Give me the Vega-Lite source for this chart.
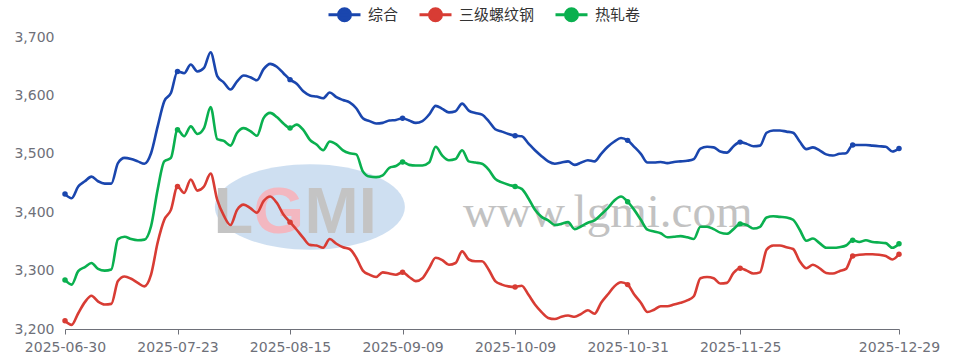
{
"$schema": "https://vega.github.io/schema/vega-lite/v6.json",
"width": 834, "height": 292,
"autosize": {"type": "none"},
"padding": {"left": 65, "top": 37, "right": 56, "bottom": 33},
"background": "#ffffff",
"config": {
  "view": {"stroke": null},
  "font": "DejaVu Sans",
  "axisX": {"domainColor": "#6E7079", "tickColor": "#6E7079", "tickSize": 5, "labelColor": "#6E7079", "labelFontSize": 14, "labelPadding": 6, "grid": false, "labelAngle": 0, "labelOverlap": false, "labelFont": "DejaVu Sans"},
  "axisY": {"domain": false, "ticks": false, "gridColor": "#E0E6F1", "gridWidth": 1, "labelColor": "#6E7079", "labelFontSize": 14, "labelPadding": 11, "labelFont": "DejaVu Sans", "format": ",.0f"}
},
"data": {"values": [
{"d":"2025-06-30","综合":3431,"三级螺纹钢":3214,"热轧卷":3284},
{"d":"2025-07-01","综合":3424,"三级螺纹钢":3207,"热轧卷":3276},
{"d":"2025-07-02","综合":3444,"三级螺纹钢":3227,"热轧卷":3299},
{"d":"2025-07-03","综合":3453,"三级螺纹钢":3246,"热轧卷":3306},
{"d":"2025-07-04","综合":3461,"三级螺纹钢":3257,"热轧卷":3313},
{"d":"2025-07-07","综合":3453,"三级螺纹钢":3247,"热轧卷":3303},
{"d":"2025-07-08","综合":3449,"三级螺纹钢":3242,"热轧卷":3300},
{"d":"2025-07-09","综合":3449,"三级螺纹钢":3243,"热轧卷":3302},
{"d":"2025-07-10","综合":3484,"三级螺纹钢":3282,"热轧卷":3354},
{"d":"2025-07-11","综合":3493,"三级螺纹钢":3290,"热轧卷":3358},
{"d":"2025-07-14","综合":3491,"三级螺纹钢":3286,"热轧卷":3354},
{"d":"2025-07-15","综合":3487,"三级螺纹钢":3279,"热轧卷":3352},
{"d":"2025-07-16","综合":3483,"三级螺纹钢":3273,"热轧卷":3353},
{"d":"2025-07-17","综合":3501,"三级螺纹钢":3293,"热轧卷":3376},
{"d":"2025-07-18","综合":3547,"三级螺纹钢":3348,"热轧卷":3439},
{"d":"2025-07-21","综合":3590,"三级螺纹钢":3387,"热轧卷":3487},
{"d":"2025-07-22","综合":3604,"三级螺纹钢":3404,"热轧卷":3493},
{"d":"2025-07-23","综合":3641,"三级螺纹钢":3444,"热轧卷":3541},
{"d":"2025-07-24","综合":3638,"三级螺纹钢":3433,"热轧卷":3530},
{"d":"2025-07-25","综合":3653,"三级螺纹钢":3456,"热轧卷":3547},
{"d":"2025-07-28","综合":3641,"三级螺纹钢":3437,"热轧卷":3534},
{"d":"2025-07-29","综合":3647,"三级螺纹钢":3444,"热轧卷":3544},
{"d":"2025-07-30","综合":3674,"三级螺纹钢":3466,"热轧卷":3580},
{"d":"2025-07-31","综合":3633,"三级螺纹钢":3421,"热轧卷":3525},
{"d":"2025-08-01","综合":3622,"三级螺纹钢":3394,"热轧卷":3522},
{"d":"2025-08-04","综合":3610,"三级螺纹钢":3378,"热轧卷":3514},
{"d":"2025-08-05","综合":3624,"三级螺纹钢":3404,"热轧卷":3536},
{"d":"2025-08-06","综合":3634,"三级螺纹钢":3413,"热轧卷":3544},
{"d":"2025-08-07","综合":3631,"三级螺纹钢":3407,"热轧卷":3539},
{"d":"2025-08-08","综合":3626,"三级螺纹钢":3399,"热轧卷":3531},
{"d":"2025-08-11","综合":3645,"三级螺纹钢":3419,"热轧卷":3561},
{"d":"2025-08-12","综合":3654,"三级螺纹钢":3427,"热轧卷":3570},
{"d":"2025-08-13","综合":3649,"三级螺纹钢":3416,"热轧卷":3563},
{"d":"2025-08-14","综合":3638,"三级螺纹钢":3396,"热轧卷":3552},
{"d":"2025-08-15","综合":3627,"三级螺纹钢":3383,"热轧卷":3544},
{"d":"2025-08-18","综合":3620,"三级螺纹钢":3370,"热轧卷":3550},
{"d":"2025-08-19","综合":3607,"三级螺纹钢":3356,"热轧卷":3541},
{"d":"2025-08-20","综合":3600,"三级螺纹钢":3344,"热轧卷":3524},
{"d":"2025-08-21","综合":3598,"三级螺纹钢":3343,"热轧卷":3516},
{"d":"2025-08-22","综合":3595,"三级螺纹钢":3339,"热轧卷":3506},
{"d":"2025-08-25","综合":3605,"三级螺纹钢":3354,"热轧卷":3521},
{"d":"2025-08-26","综合":3597,"三级螺纹钢":3346,"热轧卷":3516},
{"d":"2025-08-27","综合":3592,"三级螺纹钢":3340,"热轧卷":3506},
{"d":"2025-08-28","综合":3588,"三级螺纹钢":3337,"热轧卷":3501},
{"d":"2025-08-29","综合":3578,"三级螺纹钢":3322,"热轧卷":3499},
{"d":"2025-09-01","综合":3561,"三级螺纹钢":3300,"热轧卷":3470},
{"d":"2025-09-02","综合":3556,"三级螺纹钢":3293,"热轧卷":3461},
{"d":"2025-09-03","综合":3552,"三级螺纹钢":3289,"热轧卷":3460},
{"d":"2025-09-04","综合":3553,"三级螺纹钢":3297,"热轧卷":3463},
{"d":"2025-09-05","综合":3557,"三级螺纹钢":3295,"热轧卷":3476},
{"d":"2025-09-08","综合":3558,"三级螺纹钢":3293,"热轧卷":3479},
{"d":"2025-09-09","综合":3561,"三级螺纹钢":3297,"热轧卷":3486},
{"d":"2025-09-10","综合":3557,"三级螺纹钢":3289,"热轧卷":3481},
{"d":"2025-09-11","综合":3553,"三级螺纹钢":3282,"热轧卷":3480},
{"d":"2025-09-12","综合":3556,"三级螺纹钢":3287,"热轧卷":3480},
{"d":"2025-09-15","综合":3567,"三级螺纹钢":3304,"热轧卷":3485},
{"d":"2025-09-16","综合":3582,"三级螺纹钢":3322,"热轧卷":3512},
{"d":"2025-09-17","综合":3577,"三级螺纹钢":3318,"热轧卷":3497},
{"d":"2025-09-18","综合":3571,"三级螺纹钢":3310,"热轧卷":3489},
{"d":"2025-09-19","综合":3573,"三级螺纹钢":3313,"热轧卷":3491},
{"d":"2025-09-22","综合":3586,"三级螺纹钢":3333,"热轧卷":3506},
{"d":"2025-09-23","综合":3574,"三级螺纹钢":3319,"热轧卷":3487},
{"d":"2025-09-24","综合":3570,"三级螺纹钢":3316,"热轧卷":3485},
{"d":"2025-09-25","综合":3567,"三级螺纹钢":3316,"热轧卷":3483},
{"d":"2025-09-26","综合":3556,"三级螺纹钢":3302,"热轧卷":3473},
{"d":"2025-09-28","综合":3542,"三级螺纹钢":3282,"热轧卷":3457},
{"d":"2025-09-29","综合":3538,"三级螺纹钢":3276,"热轧卷":3451},
{"d":"2025-09-30","综合":3534,"三级螺纹钢":3273,"热轧卷":3447},
{"d":"2025-10-09","综合":3531,"三级螺纹钢":3272,"热轧卷":3444},
{"d":"2025-10-10","综合":3530,"三级螺纹钢":3274,"热轧卷":3440},
{"d":"2025-10-11","综合":3518,"三级螺纹钢":3259,"热轧卷":3424},
{"d":"2025-10-13","综合":3506,"三级螺纹钢":3242,"热轧卷":3404},
{"d":"2025-10-14","综合":3496,"三级螺纹钢":3229,"热轧卷":3392},
{"d":"2025-10-15","综合":3487,"三级螺纹钢":3219,"热轧卷":3386},
{"d":"2025-10-16","综合":3483,"三级螺纹钢":3217,"热轧卷":3378},
{"d":"2025-10-17","综合":3485,"三级螺纹钢":3221,"热轧卷":3380},
{"d":"2025-10-20","综合":3487,"三级螺纹钢":3223,"热轧卷":3383},
{"d":"2025-10-21","综合":3481,"三级螺纹钢":3221,"热轧卷":3371},
{"d":"2025-10-22","综合":3485,"三级螺纹钢":3226,"热轧卷":3376},
{"d":"2025-10-23","综合":3489,"三级螺纹钢":3232,"热轧卷":3382},
{"d":"2025-10-24","综合":3487,"三级螺纹钢":3226,"热轧卷":3386},
{"d":"2025-10-27","综合":3500,"三级螺纹钢":3245,"热轧卷":3396},
{"d":"2025-10-28","综合":3512,"三级螺纹钢":3259,"热轧卷":3407},
{"d":"2025-10-29","综合":3521,"三级螺纹钢":3273,"热轧卷":3420},
{"d":"2025-10-30","综合":3527,"三级螺纹钢":3280,"热轧卷":3427},
{"d":"2025-10-31","综合":3523,"三级螺纹钢":3276,"热轧卷":3418},
{"d":"2025-11-03","综合":3512,"三级螺纹钢":3259,"热轧卷":3404},
{"d":"2025-11-04","综合":3500,"三级螺纹钢":3245,"热轧卷":3387},
{"d":"2025-11-05","综合":3485,"三级螺纹钢":3229,"热轧卷":3370},
{"d":"2025-11-06","综合":3485,"三级螺纹钢":3233,"热轧卷":3367},
{"d":"2025-11-07","综合":3486,"三级螺纹钢":3239,"热轧卷":3364},
{"d":"2025-11-10","综合":3484,"三级螺纹钢":3239,"热轧卷":3357},
{"d":"2025-11-11","综合":3486,"三级螺纹钢":3242,"热轧卷":3358},
{"d":"2025-11-12","综合":3487,"三级螺纹钢":3245,"热轧卷":3359},
{"d":"2025-11-13","综合":3488,"三级螺纹钢":3249,"热轧卷":3357},
{"d":"2025-11-14","综合":3491,"三级螺纹钢":3256,"热轧卷":3354},
{"d":"2025-11-17","综合":3509,"三级螺纹钢":3287,"热轧卷":3375},
{"d":"2025-11-18","综合":3512,"三级螺纹钢":3289,"热轧卷":3375},
{"d":"2025-11-19","综合":3511,"三级螺纹钢":3287,"热轧卷":3371},
{"d":"2025-11-20","综合":3504,"三级螺纹钢":3278,"热轧卷":3365},
{"d":"2025-11-21","综合":3502,"三级螺纹钢":3279,"热轧卷":3363},
{"d":"2025-11-24","综合":3513,"三级螺纹钢":3296,"热轧卷":3371},
{"d":"2025-11-25","综合":3520,"三级螺纹钢":3304,"热轧卷":3380},
{"d":"2025-11-26","综合":3517,"三级螺纹钢":3300,"热轧卷":3378},
{"d":"2025-11-27","综合":3513,"三级螺纹钢":3295,"热轧卷":3372},
{"d":"2025-11-28","综合":3514,"三级螺纹钢":3297,"热轧卷":3375},
{"d":"2025-12-01","综合":3536,"三级螺纹钢":3336,"热轧卷":3391},
{"d":"2025-12-02","综合":3540,"三级螺纹钢":3343,"热轧卷":3393},
{"d":"2025-12-03","综合":3540,"三级螺纹钢":3343,"热轧卷":3392},
{"d":"2025-12-04","综合":3538,"三级螺纹钢":3340,"热轧卷":3391},
{"d":"2025-12-05","综合":3536,"三级螺纹钢":3337,"热轧卷":3387},
{"d":"2025-12-08","综合":3521,"三级螺纹钢":3316,"热轧卷":3370},
{"d":"2025-12-09","综合":3508,"三级螺纹钢":3304,"热轧卷":3351},
{"d":"2025-12-10","综合":3511,"三级螺纹钢":3310,"热轧卷":3355},
{"d":"2025-12-11","综合":3506,"三级螺纹钢":3304,"热轧卷":3347},
{"d":"2025-12-12","综合":3499,"三级螺纹钢":3296,"热轧卷":3339},
{"d":"2025-12-15","综合":3497,"三级螺纹钢":3295,"热轧卷":3339},
{"d":"2025-12-16","综合":3500,"三级螺纹钢":3299,"热轧卷":3340},
{"d":"2025-12-17","综合":3501,"三级螺纹钢":3303,"热轧卷":3343},
{"d":"2025-12-18","综合":3515,"三级螺纹钢":3325,"热轧卷":3352},
{"d":"2025-12-19","综合":3515,"三级螺纹钢":3327,"热轧卷":3349},
{"d":"2025-12-22","综合":3515,"三级螺纹钢":3328,"热轧卷":3352},
{"d":"2025-12-23","综合":3514,"三级螺纹钢":3328,"热轧卷":3349},
{"d":"2025-12-24","综合":3513,"三级螺纹钢":3327,"热轧卷":3348},
{"d":"2025-12-25","综合":3512,"三级螺纹钢":3325,"热轧卷":3347},
{"d":"2025-12-26","综合":3504,"三级螺纹钢":3319,"热轧卷":3339},
{"d":"2025-12-29","综合":3509,"三级螺纹钢":3328,"热轧卷":3346}
]},
"layer": [
  {
    "data": {"values": [{}]},
    "mark": {"type": "point", "shape": "M-1,0A1,0.45,0,1,1,1,0A1,0.45,0,1,1,-1,0Z", "size": 36100, "filled": true, "color": "#c6d9ee", "opacity": 0.85, "strokeWidth": 0},
    "encoding": {
      "x": {"datum": "2025-08-20", "type": "ordinal", "title": null},
      "y": {"datum": 3409, "type": "quantitative", "title": null}
    }
  },
  {
    "data": {"values": [{}]},
    "mark": {"type": "text", "text": "L", "font": "Liberation Sans", "fontWeight": "bold", "fontSize": 65, "color": "#c4c4c4", "align": "left", "baseline": "alphabetic", "dx": 3},
    "encoding": {
      "x": {"datum": "2025-07-30", "type": "ordinal", "title": null},
      "y": {"datum": 3365, "type": "quantitative", "title": null}
    }
  },
  {
    "data": {"values": [{}]},
    "mark": {"type": "text", "text": "G", "font": "Liberation Sans", "fontWeight": "bold", "fontSize": 65, "color": "#f3b7c0", "align": "left", "baseline": "alphabetic", "dx": 43},
    "encoding": {
      "x": {"datum": "2025-07-30", "type": "ordinal", "title": null},
      "y": {"datum": 3365, "type": "quantitative", "title": null}
    }
  },
  {
    "data": {"values": [{}]},
    "mark": {"type": "text", "text": "MI", "font": "Liberation Sans", "fontWeight": "bold", "fontSize": 65, "color": "#c4c4c4", "align": "left", "baseline": "alphabetic", "dx": 94},
    "encoding": {
      "x": {"datum": "2025-07-30", "type": "ordinal", "title": null},
      "y": {"datum": 3365, "type": "quantitative", "title": null}
    }
  },
  {
    "data": {"values": [{}]},
    "mark": {"type": "text", "text": "www.lgmi.com", "font": "Liberation Serif", "fontSize": 47, "color": "#c2c2c2", "align": "center", "baseline": "alphabetic"},
    "encoding": {
      "x": {"datum": "2025-10-28", "type": "ordinal", "title": null},
      "y": {"datum": 3375, "type": "quantitative", "title": null}
    }
  },
  {
    "transform": [{"fold": ["综合", "三级螺纹钢", "热轧卷"], "as": ["s", "v"]}],
    "mark": {"type": "line", "interpolate": "monotone", "strokeWidth": 2.6},
    "encoding": {
      "x": {"field": "d", "type": "ordinal", "title": null, "scale": {"type": "point", "padding": 0},
            "axis": {"values": ["2025-06-30","2025-07-23","2025-08-15","2025-09-09","2025-10-09","2025-10-31","2025-11-25","2025-12-29"]}},
      "y": {"field": "v", "type": "quantitative", "title": null, "scale": {"domain": [3200, 3700], "nice": false, "zero": false},
            "axis": {"values": [3200, 3300, 3400, 3500, 3600, 3700], "format": ",.0f"}},
      "color": {"field": "s", "type": "nominal",
        "scale": {"domain": ["综合", "三级螺纹钢", "热轧卷"], "range": ["#1a46ae", "#d83c34", "#0ab04f"]},
        "legend": {"orient": "none", "legendX": 262, "legendY": -40, "direction": "horizontal", "title": null,
          "symbolType": "M-1,0L1,0M0.375,0A0.375,0.375,0,1,1,-0.375,0A0.375,0.375,0,1,1,0.375,0",
          "symbolSize": 1024, "symbolStrokeWidth": 3, "labelFontSize": 15, "labelColor": "#333333",
          "labelFont": "Noto Sans CJK SC", "labelOffset": 6, "columnPadding": 14, "padding": 0,
          "encode": {"symbols": {"update": {"fill": {"scale": "color", "field": "value"}, "stroke": {"scale": "color", "field": "value"}, "opacity": {"value": 1}}}}}
      }
    }
  },
  {
    "transform": [
      {"filter": {"field": "d", "oneOf": ["2025-06-30","2025-07-23","2025-08-15","2025-09-09","2025-10-09","2025-10-31","2025-11-25","2025-12-18","2025-12-29"]}},
      {"fold": ["综合", "三级螺纹钢", "热轧卷"], "as": ["s", "v"]}
    ],
    "mark": {"type": "circle", "size": 30, "opacity": 1},
    "encoding": {
      "x": {"field": "d", "type": "ordinal", "title": null},
      "y": {"field": "v", "type": "quantitative", "title": null},
      "color": {"field": "s", "type": "nominal"}
    }
  }
]
}
